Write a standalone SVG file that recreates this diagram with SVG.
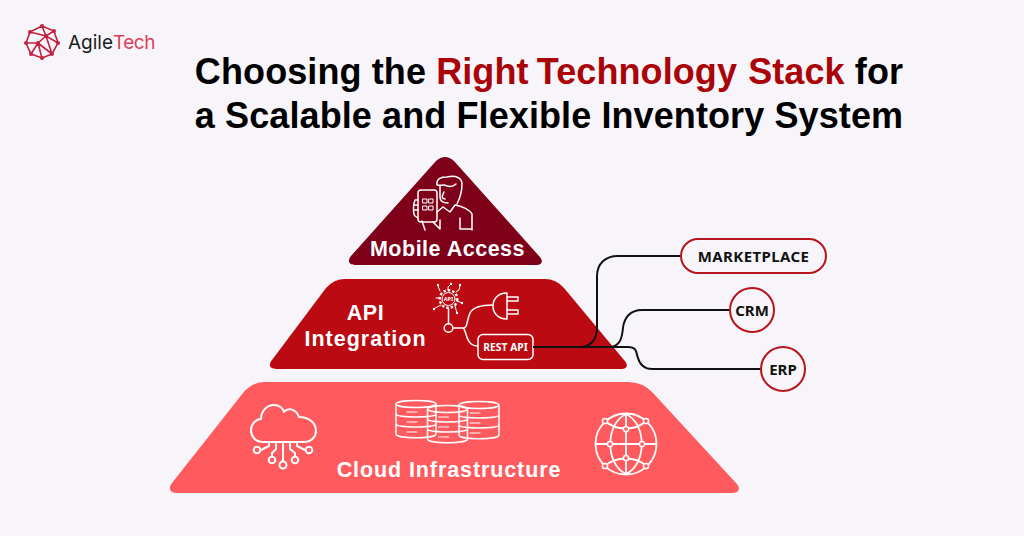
<svg xmlns="http://www.w3.org/2000/svg" width="1024" height="536" viewBox="0 0 1024 536">
<style>
.ttl{font-family:"Liberation Sans",Arial,sans-serif;font-weight:700;font-size:36px;fill:#000;letter-spacing:.1px}
.lbl{font-family:"Liberation Sans",Arial,sans-serif;font-weight:700;fill:#fff;text-anchor:middle;font-size:21.500px}
.ic{fill:none;stroke:#fff;stroke-linecap:round;stroke-linejoin:round}
.nd{fill:#f7f5f9;stroke:#b8141c;stroke-width:2}
.ndt{font-family:"Noto Sans",sans-serif;font-weight:700;font-size:15px;fill:#111;text-anchor:middle}
.con{fill:none;stroke:#111;stroke-width:2}
.lg{fill:none;stroke:#c4213f;stroke-width:1.600}
</style>
<defs>
<g id="ci"><circle r="2.600" fill="#ff5a5e" stroke="#fff" stroke-width="1.500"/></g>
<g id="can" class="ic" stroke-width="1.500">
<ellipse cx="20" cy="4" rx="20" ry="3.500"/>
<path d="M0 4 V34 C0 39 40 39 40 34 V4 M0 14 C0 18 40 18 40 14 M0 24 C0 28 40 28 40 24"/>
<path d="M11 12 H21 M11 22 H21 M11 32 H21" stroke-width="1.100"/>
</g>
</defs>
<rect width="1024" height="536" fill="#f7f5f9"/>
<g id="logo">
<path class="lg" d="M42 26 L54 31 L58 43 L52 54 L42 58 L31 54 L26 43 L30 32 Z M42 26 L46 36 L58 43 M30 32 L46 36 L38 43 L26 43 M38 43 L52 54 M38 43 L42 58 M38 43 L31 54 M46 36 L54 31 M46 36 L52 54"/>
<g fill="#c4213f"><circle cx="42" cy="26" r="2"/><circle cx="54" cy="31" r="2"/><circle cx="58" cy="43" r="2"/><circle cx="52" cy="54" r="2"/><circle cx="42" cy="58" r="2"/><circle cx="31" cy="54" r="2"/><circle cx="26" cy="43" r="2"/><circle cx="30" cy="32" r="2"/><circle cx="46" cy="36" r="2"/><circle cx="38" cy="43" r="2"/></g>
<text x="68" y="49" font-family="Inter,sans-serif" font-size="19" fill="#1b1b22">Agile</text>
<text x="113" y="49" font-family="Inter,sans-serif" font-size="19" letter-spacing="-.5" fill="#dc3f5a">Tech</text>
</g>
<g id="title">
<text class="ttl" x="549" y="84" text-anchor="middle">Choosing the <tspan fill="#aa0308">Right <tspan dx="-2">Technology</tspan> <tspan dx="1">Stack</tspan></tspan> for</text>
<text class="ttl" x="549" y="128" text-anchor="middle">a Scalable and Flexible Inventory System</text>
</g>
<g id="cloud-infrastructure">
<path d="M265 382 H628 Q643 382 653 393 L736 483 C741 488 739 493 733 493 H176 C170 493 168 488 172 483 L243 393 Q252 382 265 382 Z" fill="#ff5a5e"/>
<g class="ic" stroke-width="2">
<path d="M263 442 C255 442 251 436 251 430 C251 424 256 419 261 419 C261 412 266 405 274 405 C279 405 283 408 284 412 C288 407 296 409 299 417 C309 417 316 423 316 431 C316 437 311 442 304 442 Z"/>
<path d="M283 442 V461 M276 442 V449 L272 453 V456 M290 442 V449 L295 453 V456 M269 442 V446 L261 450 M297 442 V446 L305 450"/>
<circle cx="283" cy="465" r="3.500"/><circle cx="272" cy="460" r="3.300"/><circle cx="295" cy="460" r="3.300"/><circle cx="257" cy="450" r="3.300"/><circle cx="309" cy="450" r="3.300"/>
</g>
<use href="#can" x="396" y="400"/>
<use href="#can" x="427.500" y="405"/>
<use href="#can" x="459" y="401"/>
<g class="ic" stroke-width="1.800">
<circle cx="626" cy="444" r="30.500"/>
<path d="M596 444 H656 M626 414 V474 M605 421 C616 431 636 431 646 421 M605 466 C616 456 636 456 646 466"/>
<path d="M626 414 C605 424 605 464 626 474 C647 464 647 424 626 414"/>
</g>
<g><use href="#ci" x="605" y="421"/><use href="#ci" x="646" y="421"/><use href="#ci" x="626" y="429"/><use href="#ci" x="610" y="444"/><use href="#ci" x="642" y="444"/><use href="#ci" x="626" y="458"/><use href="#ci" x="605" y="466"/><use href="#ci" x="646" y="466"/></g>
<text class="lbl" x="449" y="477" letter-spacing=".9">Cloud Infrastructure</text>
</g>
<g id="api-integration">
<path d="M345 279 H545 Q556 279 564 288 L624 360 C629 365 627 369 621 369 H276 C270 369 268 365 272 360 L326 288 Q334 279 345 279 Z" fill="#bb0a11"/>
<text class="lbl" x="365.500" y="320" letter-spacing=".5">API</text>
<text class="lbl" x="365.500" y="346" letter-spacing="1">Integration</text>
<g class="ic" stroke-width="1.500">
<circle cx="448.500" cy="328" r="4.300"/>
<path d="M448.500 323.500 V309 M453 328 H463 C468 328 466 322 470 313 C473 307 480 305 493 305 M463 328 C467 330 465 346 478 346"/>
<path d="M507 293 C497 293 493 300 493 306 C493 312 497 319 507 319 Z M507 297 H518 V301 H507 M507 310 H518 V314 H507"/>
<rect x="478" y="334.500" width="55" height="25" rx="5"/>
<circle cx="448.500" cy="299" r="6.500" stroke-width="1"/>
<circle cx="448.500" cy="299" r="8.800" stroke-width="2.400" stroke-dasharray="2.500 2" stroke-linecap="butt"/>
<path d="M440 291 L438 286 M448 290 V287 L451 284 M456 292 L459 290 L460 285 M457 301 L462 303 M455 306 L457 313 M441 305 L437 307 L434 309 M440 298 H436" stroke-width="1"/>
</g>
<g fill="#fff"><circle cx="438" cy="285" r="1.200"/><circle cx="451" cy="284" r="1.200"/><circle cx="460" cy="285" r="1.200"/><circle cx="462" cy="303" r="1.200"/><circle cx="457" cy="313" r="1.200"/><circle cx="434" cy="309" r="1.200"/></g>
<text x="448.500" y="301" font-family="Noto Sans,sans-serif" font-weight="700" font-size="5.500" fill="#fff" text-anchor="middle">API</text>
<text x="505.500" y="351" font-family="Noto Sans,sans-serif" font-weight="700" font-size="10.300" fill="#fff" text-anchor="middle">REST API</text>
</g>
<g id="mobile-access">
<path d="M436 161 Q445 153 454 161 L539 256 C544 261 542 265 536 265 H355 C349 265 347 261 351 256 Z" fill="#7e0019"/>
<g class="ic" stroke-width="1.500">
<rect x="418" y="190" width="19" height="32" rx="3"/>
<path d="M418 200 H415 C413 204 413 214 415 216 L418 218 M414 205 H418 M414 210 H418"/>
<path d="M422 221 L425 230 M433 222 L440 229 V220"/>
<path d="M437 185 C436 178 442 177 447 177 C456 175 462 178 462 184 C462 192 460 198 457 204 M437 185 C441 186 444 184 447 186 C451 187 454 186 456 184"/>
<path d="M440 186 V197 C440 201 443 203 448 203 M444 192 C442 196 441 198 445 199"/>
<path d="M437 212 L443 207 L450 212 L455 205 C462 206 470 210 472 214 V230 M460 218 V229 H472"/>
<path d="M423 199 H427 V203 H423 Z M429 199 H433 V203 H429 Z M423 206 H427 V210 H423 Z M429 206 H433 V210 H429 Z" stroke-width="1"/>
</g>
<text class="lbl" x="447.500" y="256" letter-spacing=".5">Mobile Access</text>
</g>
<g id="connectors">
<path class="con" d="M533 347 H580 C590 347 597 340 597 328 V276 C597 264 605 256 618 256 H682"/>
<path class="con" d="M533 347 H609 C620 347 622 338 623 328 C624 318 630 310 642 310 H730"/>
<path class="con" d="M533 347 H628 C638 347 636 354 638 358 C640 365 645 369 652 369 H761"/>
</g>
<g id="marketplace">
<rect class="nd" x="681" y="239" width="145" height="34" rx="17"/>
<text class="ndt" x="753.500" y="262" letter-spacing=".4">MARKETPLACE</text>
</g>
<g id="crm">
<circle class="nd" cx="752" cy="310" r="22"/>
<text class="ndt" x="752" y="315.500">CRM</text>
</g>
<g id="erp">
<circle class="nd" cx="783" cy="369" r="22"/>
<text class="ndt" x="783" y="374.500">ERP</text>
</g>
</svg>
